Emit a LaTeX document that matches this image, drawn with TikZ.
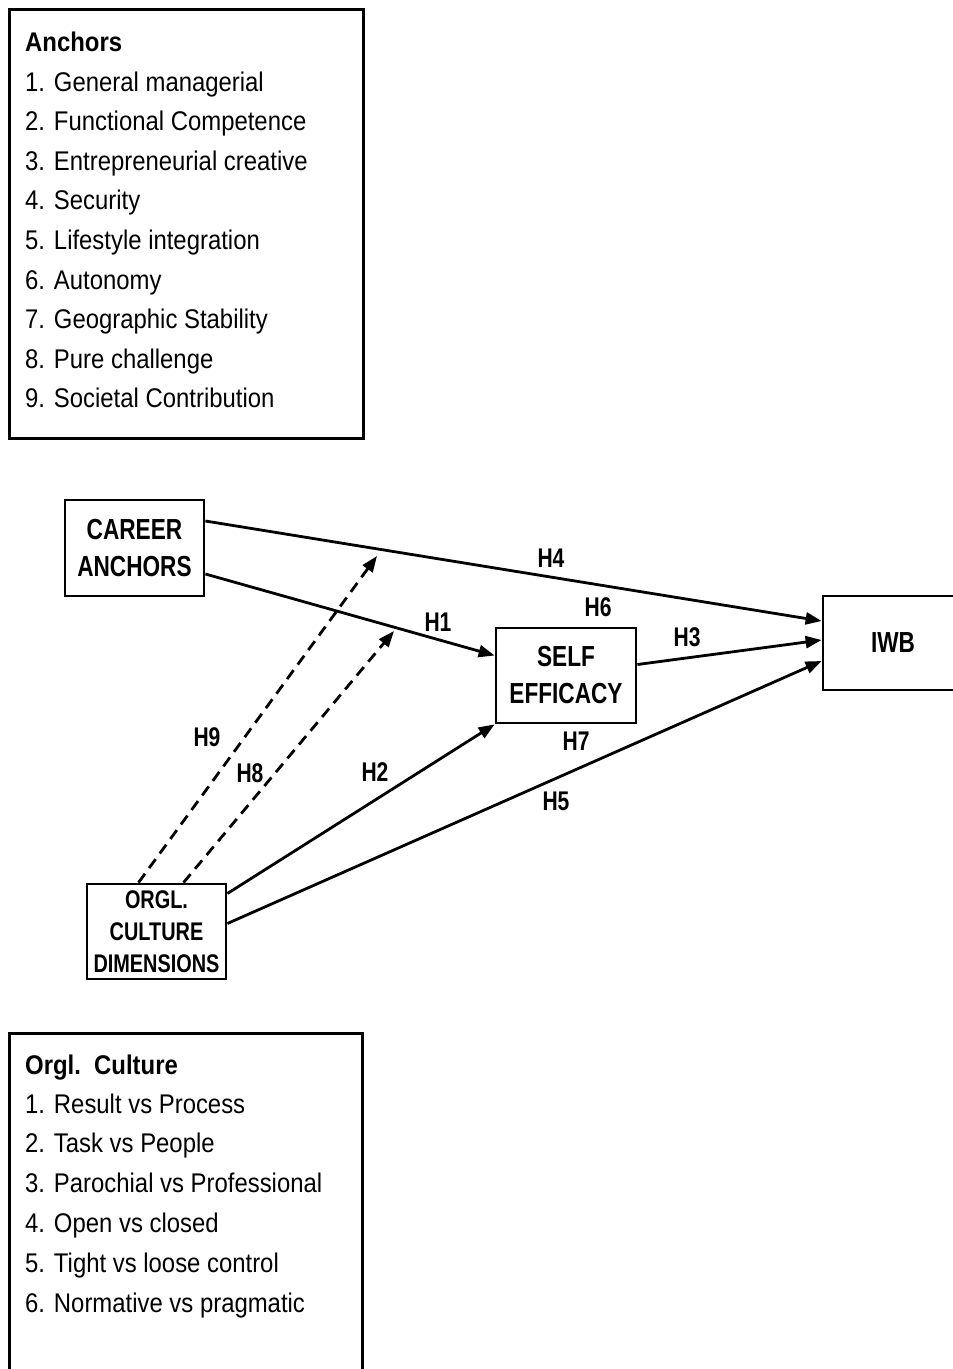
\documentclass[tikz,border=0pt]{standalone}
\usepackage{fontspec}
\setmainfont{Liberation Sans}[FakeStretch=0.885]
\newfontfamily\labelfont{Liberation Sans}[FakeStretch=0.78]
\usetikzlibrary{arrows.meta,positioning}

\begin{document}
\begin{tikzpicture}[
    x=1pt, y=-1pt,
    frame/.style={
        draw,
        line width=2.8pt,
        anchor=north west,
        inner sep=0pt
    },
    construct/.style={
        draw,
        line width=2.8pt,
        align=center,
        inner sep=0pt,
        font=\labelfont\bfseries\fontsize{29}{37}\selectfont
    },
    item/.style={
        anchor=base west,
        inner sep=0pt,
        font=\fontsize{27}{32}\selectfont
    },
    heading/.style={
        item,
        font=\bfseries\fontsize{27}{32}\selectfont
    },
    hyp/.style={
        inner sep=0pt,
        font=\labelfont\bfseries\fontsize{27}{30}\selectfont
    },
    arrow/.style={
        -{Triangle[length=16pt,width=12pt]},
        line width=2.8pt
    },
    moderation/.style={
        arrow,
        dash pattern=on 11pt off 7pt
    }
]
\useasboundingbox (0,0) rectangle (953,1369);
\clip (0,0) rectangle (953,1369);

% Legend: career anchors
\node[frame, minimum width=354, minimum height=429] (anchorbox) at (8,8) {};
\node[heading] (anchorhead) at (25,51) {Anchors};
\foreach \i/\txt in {1/General managerial, 2/Functional Competence,
    3/Entrepreneurial creative, 4/Security, 5/Lifestyle integration,
    6/Autonomy, 7/Geographic Stability, 8/Pure challenge,
    9/Societal Contribution} {
    \node[item] (anchor\i) at (25,{91+39.6*(\i-1)}) {\i. \txt};
}

% Constructs
\node[construct, minimum width=139, minimum height=96] (career) at (134.5,548) {CAREER\\ANCHORS};
\node[construct, minimum width=140, minimum height=95] (self) at (566,675.5) {SELF\\EFFICACY};
\node[construct, minimum width=140, minimum height=94] (iwb) at (893,643) {IWB};
\node[construct, minimum width=139, minimum height=95,
      font=\labelfont\bfseries\fontsize{25.5}{32}\selectfont] (orgl) at (156.5,931.5) {ORGL.\\CULTURE\\DIMENSIONS};

% Direct paths
\draw[arrow] ([yshift=27pt]career.east) -- ([yshift=22pt]iwb.west);
\draw[arrow] ([yshift=-26pt]career.east) -- ([yshift=20pt]self.west);
\draw[arrow] ([yshift=11pt]self.east) -- ([yshift=3pt]iwb.west);
\draw[arrow] ([yshift=38pt]orgl.east) -- (self.south west);
\draw[arrow] ([yshift=8pt]orgl.east) -- ([yshift=-18pt]iwb.west);

% Moderation paths
\coordinate (h9end) at (377,556);
\coordinate (h8end) at (394,631);
\draw[moderation] ([xshift=-18pt]orgl.north) -- (h9end);
\draw[moderation] ([xshift=27pt]orgl.north) -- (h8end);

% Hypothesis labels
\node[hyp] (h4) at (551,558) {H4};
\node[hyp] (h6) at (598,607) {H6};
\node[hyp] (h1) at (438,622) {H1};
\node[hyp] (h3) at (687,637) {H3};
\node[hyp] (h7) at (576,741) {H7};
\node[hyp] (h2) at (375,772) {H2};
\node[hyp] (h9) at (207,737) {H9};
\node[hyp] (h8) at (250,773) {H8};
\node[hyp] (h5) at (556,801) {H5};

% Legend: organisational culture
\node[frame, minimum width=353, minimum height=400] (culturebox) at (8,1032) {};
\node[heading] (culturehead) at (25,1074) {Orgl.\ \ Culture};
\foreach \i/\txt in {1/Result vs Process, 2/Task vs People,
    3/Parochial vs Professional, 4/Open vs closed,
    5/Tight vs loose control, 6/Normative vs pragmatic} {
    \node[item] (culture\i) at (25,{1113+39.8*(\i-1)}) {\i. \txt};
}
\end{tikzpicture}
\end{document}
